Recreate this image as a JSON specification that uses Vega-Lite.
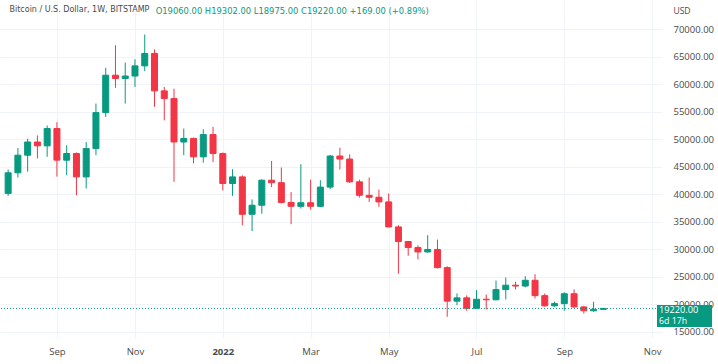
{
  "$schema": "https://vega.github.io/schema/vega-lite/v6.json",
  "width": 662,
  "height": 338,
  "autosize": {"type": "none"},
  "padding": {"left": 0, "top": 0, "right": 56, "bottom": 26},
  "background": "white",
  "config": {"view": {"stroke": null}, "font": "Open Sans"},
  "title": {
    "text": "Bitcoin / U.S. Dollar, 1W, BITSTAMP",
    "anchor": "start",
    "offset": -14,
    "dx": 10,
    "fontSize": 8,
    "fontWeight": "normal",
    "color": "#4a4a4a",
    "font": "DejaVu Sans"
  },
  "data": {
    "values": [
      {"d": "2021-08-02", "o": 40150, "h": 44500, "l": 39700, "c": 43900},
      {"d": "2021-08-09", "o": 43900, "h": 48400, "l": 43050, "c": 47100},
      {"d": "2021-08-16", "o": 47100, "h": 50100, "l": 44100, "c": 49500},
      {"d": "2021-08-23", "o": 49500, "h": 50700, "l": 46500, "c": 48800},
      {"d": "2021-08-30", "o": 48800, "h": 52500, "l": 46800, "c": 51950},
      {"d": "2021-09-06", "o": 51950, "h": 53100, "l": 43200, "c": 46200},
      {"d": "2021-09-13", "o": 46200, "h": 48900, "l": 43450, "c": 47400},
      {"d": "2021-09-20", "o": 47400, "h": 47600, "l": 39800, "c": 43150},
      {"d": "2021-09-27", "o": 43150, "h": 49500, "l": 41050, "c": 48300},
      {"d": "2021-10-04", "o": 48300, "h": 56500, "l": 47100, "c": 54850},
      {"d": "2021-10-11", "o": 54850, "h": 63000, "l": 54050, "c": 61650},
      {"d": "2021-10-18", "o": 61650, "h": 67100, "l": 59350, "c": 61050},
      {"d": "2021-10-25", "o": 61050, "h": 63950, "l": 56500, "c": 61500},
      {"d": "2021-11-01", "o": 61500, "h": 64550, "l": 59500, "c": 63350},
      {"d": "2021-11-08", "o": 63350, "h": 69050, "l": 62400, "c": 65600},
      {"d": "2021-11-15", "o": 65600, "h": 66350, "l": 55900, "c": 58800},
      {"d": "2021-11-22", "o": 58800, "h": 59500, "l": 53450, "c": 57400},
      {"d": "2021-11-29", "o": 57400, "h": 59200, "l": 42250, "c": 49500},
      {"d": "2021-12-06", "o": 49500, "h": 51950, "l": 47100, "c": 50150},
      {"d": "2021-12-13", "o": 50150, "h": 50300, "l": 45600, "c": 46800},
      {"d": "2021-12-20", "o": 46800, "h": 51800, "l": 45750, "c": 50850},
      {"d": "2021-12-27", "o": 50850, "h": 52250, "l": 45850, "c": 47400},
      {"d": "2022-01-03", "o": 47400, "h": 47600, "l": 40700, "c": 41950},
      {"d": "2022-01-10", "o": 41950, "h": 44550, "l": 39700, "c": 43150},
      {"d": "2022-01-17", "o": 43150, "h": 43450, "l": 34350, "c": 36350},
      {"d": "2022-01-24", "o": 36350, "h": 39050, "l": 33300, "c": 38000},
      {"d": "2022-01-31", "o": 38000, "h": 42700, "l": 36450, "c": 42550},
      {"d": "2022-02-07", "o": 42550, "h": 46050, "l": 41300, "c": 42100},
      {"d": "2022-02-14", "o": 42100, "h": 44850, "l": 38300, "c": 38500},
      {"d": "2022-02-21", "o": 38500, "h": 40400, "l": 34550, "c": 37800},
      {"d": "2022-02-28", "o": 37800, "h": 45450, "l": 37400, "c": 38450},
      {"d": "2022-03-07", "o": 38450, "h": 42650, "l": 37200, "c": 37800},
      {"d": "2022-03-14", "o": 37800, "h": 42550, "l": 37650, "c": 41300},
      {"d": "2022-03-21", "o": 41300, "h": 47150, "l": 40900, "c": 46950},
      {"d": "2022-03-28", "o": 46950, "h": 48450, "l": 44500, "c": 46400},
      {"d": "2022-04-04", "o": 46400, "h": 47250, "l": 42050, "c": 42250},
      {"d": "2022-04-11", "o": 42250, "h": 42650, "l": 39400, "c": 39800},
      {"d": "2022-04-18", "o": 39800, "h": 43050, "l": 38600, "c": 39450},
      {"d": "2022-04-25", "o": 39450, "h": 40850, "l": 37700, "c": 38600},
      {"d": "2022-05-02", "o": 38600, "h": 40150, "l": 33950, "c": 34050},
      {"d": "2022-05-09", "o": 34050, "h": 34350, "l": 25550, "c": 31400},
      {"d": "2022-05-16", "o": 31400, "h": 31500, "l": 28800, "c": 30300},
      {"d": "2022-05-23", "o": 30300, "h": 30700, "l": 28150, "c": 29500},
      {"d": "2022-05-30", "o": 29500, "h": 32550, "l": 29350, "c": 29950},
      {"d": "2022-06-06", "o": 29950, "h": 31750, "l": 26500, "c": 26650},
      {"d": "2022-06-13", "o": 26650, "h": 26900, "l": 17700, "c": 20550},
      {"d": "2022-06-20", "o": 20550, "h": 21950, "l": 19800, "c": 21150},
      {"d": "2022-06-27", "o": 21150, "h": 21600, "l": 18800, "c": 19250},
      {"d": "2022-07-04", "o": 19250, "h": 22550, "l": 19200, "c": 20900},
      {"d": "2022-07-11", "o": 20900, "h": 21750, "l": 19050, "c": 20800},
      {"d": "2022-07-18", "o": 20800, "h": 24300, "l": 20700, "c": 22650},
      {"d": "2022-07-25", "o": 22650, "h": 24850, "l": 20850, "c": 23450},
      {"d": "2022-08-01", "o": 23450, "h": 24100, "l": 22700, "c": 23300},
      {"d": "2022-08-08", "o": 23300, "h": 25100, "l": 23050, "c": 24350},
      {"d": "2022-08-15", "o": 24350, "h": 25450, "l": 21050, "c": 21550},
      {"d": "2022-08-22", "o": 21550, "h": 21950, "l": 19520, "c": 19700},
      {"d": "2022-08-29", "o": 19700, "h": 20450, "l": 19520, "c": 20100},
      {"d": "2022-09-05", "o": 20100, "h": 22150, "l": 18800, "c": 21900},
      {"d": "2022-09-12", "o": 21900, "h": 22700, "l": 19350, "c": 19500},
      {"d": "2022-09-19", "o": 19500, "h": 19700, "l": 18300, "c": 18800},
      {"d": "2022-09-26", "o": 18800, "h": 20450, "l": 18600, "c": 19060},
      {"d": "2022-10-03", "o": 19060, "h": 19302, "l": 18975, "c": 19220}
    ]
  },
  "layer": [
    {
      "mark": {"type": "rule", "strokeWidth": 1},
      "encoding": {
        "x": {
          "field": "d",
          "type": "temporal",
          "scale": {
            "type": "utc",
            "domain": [
              {"year": 2021, "month": 7, "date": 30, "hours": 18, "utc": true},
              {"year": 2022, "month": 11, "date": 10, "hours": 12, "utc": true}
            ]
          },
          "axis": {
            "title": null,
            "values": [
              {"year": 2021, "month": 9, "date": 6, "utc": true},
              {"year": 2021, "month": 11, "date": 1, "utc": true},
              {"year": 2022, "month": 1, "date": 3, "utc": true},
              {"year": 2022, "month": 3, "date": 7, "utc": true},
              {"year": 2022, "month": 5, "date": 2, "utc": true},
              {"year": 2022, "month": 7, "date": 4, "utc": true},
              {"year": 2022, "month": 9, "date": 5, "utc": true},
              {"year": 2022, "month": 11, "date": 7, "utc": true}
            ],
            "tickCount": 20,
            "labelExpr": "utcFormat(datum.value, '%m') == '01' ? utcFormat(datum.value, '%Y') : utcFormat(datum.value, '%b')",
            "labelFontWeight": {"condition": {"test": "utcFormat(datum.value, '%m') == '01'", "value": "bold"}, "value": "normal"},
            "grid": true,
            "gridColor": "#f0f3fa",
            "domain": false,
            "ticks": false,
            "labelPadding": 8,
            "labelFontSize": 9.5,
            "labelColor": "#4a4a4a",
            "labelFont": "Open Sans",
            "labelFlush": false,
            "labelOverlap": false
          }
        },
        "y": {
          "field": "l",
          "type": "quantitative",
          "scale": {"domain": [13847, 75330], "zero": false, "nice": false},
          "axis": {
            "orient": "right",
            "values": [15000, 20000, 25000, 30000, 35000, 40000, 45000, 50000, 55000, 60000, 65000, 70000],
            "tickCount": 30,
            "format": ".2f",
            "grid": true,
            "gridColor": "#f0f3fa",
            "domain": false,
            "ticks": false,
            "labelOverlap": false,
            "labelPadding": 11,
            "labelFontSize": 9.5,
            "labelColor": "#4a4a4a",
            "labelFont": "Open Sans",
            "title": "USD",
            "titleAngle": 0,
            "titleX": 11,
            "titleY": 10,
            "titleAlign": "left",
            "titleBaseline": "middle",
            "titleFontWeight": "normal",
            "titleFontSize": 8.5,
            "titleColor": "#4a4a4a",
            "titleFont": "Open Sans"
          }
        },
        "y2": {"field": "h"},
        "color": {"condition": {"test": "datum.c >= datum.o", "value": "#089981"}, "value": "#f23645"}
      }
    },
    {
      "mark": {"type": "bar", "width": 6, "strokeWidth": 1},
      "encoding": {
        "x": {"field": "d", "type": "temporal"},
        "y": {"field": "o", "type": "quantitative"},
        "y2": {"field": "c"},
        "fill": {"condition": {"test": "datum.c >= datum.o", "value": "#089981"}, "value": "#f23645"},
        "stroke": {"condition": {"test": "datum.c >= datum.o", "value": "#089981"}, "value": "#f23645"}
      }
    },
    {
      "data": {"values": [{"price": 19220, "label": "19220.00", "countdown": "6d 17h", "ohlc": "O19060.00 H19302.00 L18975.00 C19220.00 +169.00 (+0.89%)"}]},
      "mark": {"type": "rule", "strokeDash": [1, 2], "color": "#089981", "strokeWidth": 1},
      "encoding": {"y": {"field": "price", "type": "quantitative"}}
    },
    {
      "data": {"values": [{"price": 19220, "label": "19220.00", "countdown": "6d 17h", "ohlc": "O19060.00 H19302.00 L18975.00 C19220.00 +169.00 (+0.89%)"}]},
      "mark": {"type": "text", "color": "#089981", "align": "left", "baseline": "middle", "fontSize": 8.4, "font": "DejaVu Sans"},
      "encoding": {
        "x": {"datum": {"year": 2021, "month": 11, "date": 15, "hours": 20, "utc": true}, "type": "temporal"},
        "y": {"datum": 73350, "type": "quantitative"},
        "text": {"field": "ohlc"}
      }
    },
    {
      "data": {"values": [{"price": 19220, "label": "19220.00", "countdown": "6d 17h"}]},
      "mark": {"type": "rect", "color": "#089981"},
      "encoding": {
        "x": {"datum": {"year": 2022, "month": 11, "date": 10, "hours": 12, "utc": true}, "type": "temporal"},
        "x2": {"datum": {"year": 2022, "month": 12, "date": 20, "utc": true}},
        "y": {"datum": 19850, "type": "quantitative"},
        "y2": {"datum": 15850}
      }
    },
    {
      "data": {"values": [{"price": 19220, "label": "19220.00", "countdown": "6d 17h"}]},
      "mark": {"type": "text", "color": "white", "align": "left", "baseline": "middle", "fontSize": 9.2, "font": "Open Sans", "dy": 2},
      "encoding": {
        "x": {"datum": {"year": 2022, "month": 11, "date": 12, "utc": true}, "type": "temporal"},
        "y": {"field": "price", "type": "quantitative"},
        "text": {"field": "label"}
      }
    },
    {
      "data": {"values": [{"price": 19220, "label": "19220.00", "countdown": "6d 17h"}]},
      "mark": {"type": "text", "color": "white", "align": "left", "baseline": "middle", "fontSize": 8.8, "font": "Open Sans", "dy": 12.5},
      "encoding": {
        "x": {"datum": {"year": 2022, "month": 11, "date": 12, "utc": true}, "type": "temporal"},
        "y": {"field": "price", "type": "quantitative"},
        "text": {"field": "countdown"}
      }
    }
  ]
}
